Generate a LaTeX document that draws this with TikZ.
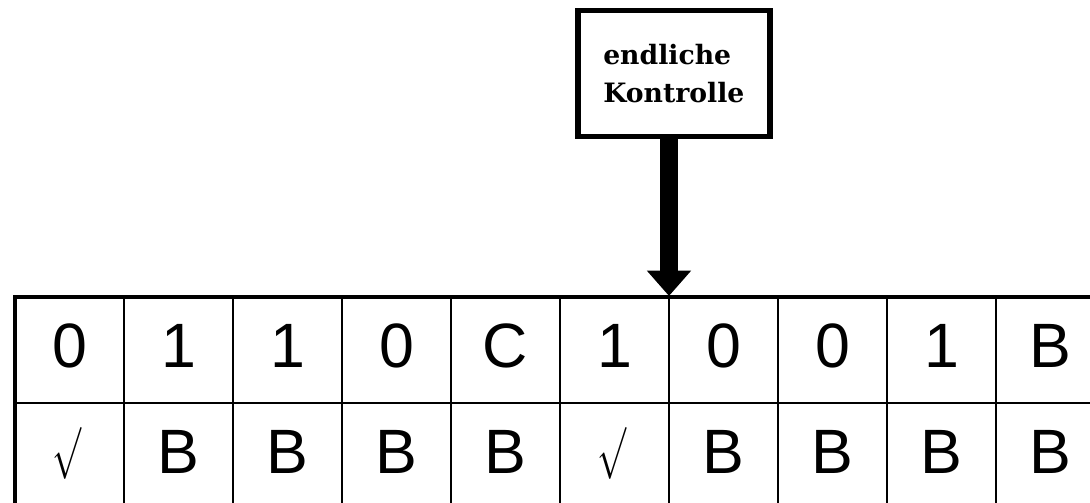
\documentclass[tikz,border=0pt]{standalone}
\usepackage{fontspec}
\usepackage{graphicx}
\setmainfont{Liberation Serif}
\newfontfamily\cellfont{Liberation Sans}
\newfontfamily\boxfont{DejaVu Serif}
\usetikzlibrary{arrows.meta}
\tikzset{
  thickline/.style={line width=3pt, line cap=rect},
  thinline/.style={line width=1.1pt},
  celltext/.style={font=\cellfont\fontsize{47}{47}\selectfont, anchor=base, inner sep=0pt},
  checktext/.style={anchor=center, inner sep=0pt},
  ctrlbox/.style={draw, line width=3.8pt, minimum width=144pt, minimum height=94.5pt, inner sep=0pt},
  bigarrow/.style={line width=13.5pt, -{Triangle[width=32pt,length=19pt]}}
}
\begin{document}
\begin{tikzpicture}[x=0.75pt,y=-0.75pt]
\useasboundingbox (0,0) rectangle (1090,503);
% control box
\node[ctrlbox] (ctrl) at (674,73.5) {};
\node[font=\boxfont\bfseries\fontsize{20}{28.5}\selectfont, align=left, anchor=base west, inner sep=0pt] (ctrltext) at (603,103) {endliche\\Kontrolle};
% tape grid
\coordinate (tl) at (15,297);
\draw[thinline] (15,403) -- (1090,403);
\foreach \i in {1,...,9} {
  \draw[thinline] (15+109*\i,297) -- (15+109*\i,503);
}
\draw[thickline] (1092,297) -- (tl) -- (15,505);
% cells
\foreach \s [count=\i from 0] in {0,1,1,0,C,1,0,0,1,B} {
  \node[celltext] (a\i) at (69.5+109*\i,367) {\s};
}
\foreach \s [count=\i from 0] in {X,B,B,B,B,X,B,B,B,B} {
  \if\s X
    \node[checktext] (b\i) at (67+109*\i,453) {\scalebox{2.6}[3.9]{$\surd$}};
  \else
    \node[celltext] (b\i) at (69.5+109*\i,473) {\s};
  \fi
}
% arrow
\coordinate (tip) at (669,296);
\draw[bigarrow] (ctrl.south -| tip) -- (tip);
\end{tikzpicture}
\end{document}
